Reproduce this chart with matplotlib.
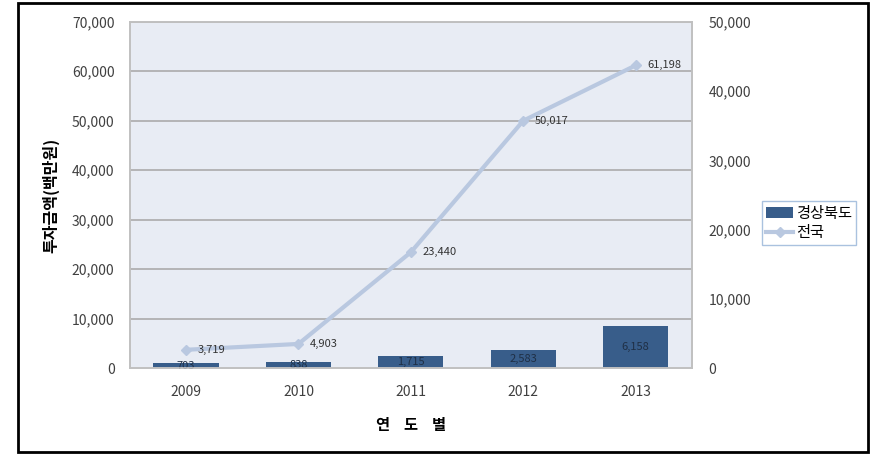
#! /usr/bin/env python3

import numpy as np
import matplotlib
matplotlib.use("Agg")
from matplotlib import pyplot as plt
from matplotlib.patches import Rectangle

plt.rcParams['font.family'] = ['Noto Sans CJK KR', 'DejaVu Sans']

years      = ["2009", "2010", "2011", "2012", "2013"]
gyeongbuk  = [703, 838, 1715, 2583, 6158]        # bars, right axis
national   = [3719, 4903, 23440, 50017, 61198]   # line, left axis

bar_color  = "#385D8A"
line_color = "#B9C8E0"
tick_color = "#404040"

fig = plt.figure(figsize=(8.77, 4.54), dpi=100)
ax = fig.add_axes([0.148, 0.189, 0.641, 0.763])
ax2 = ax.twinx()

x = np.arange(len(years))

# bars on the right axis, drawn behind the line
ax2.bar(x, gyeongbuk, width=0.58, color=bar_color, zorder=2, label="경상북도")
for xi, v in zip(x, gyeongbuk):
    ax2.text(xi, v / 2, f"{v:,}", ha="center", va="center",
             fontsize=8, color="#1F2F45", zorder=3)
ax2.set_ylim(0, 50000)
ax2.set_yticks(np.arange(0, 50001, 10000))
ax2.set_yticklabels([f"{v:,}" for v in range(0, 50001, 10000)])

# line on the left axis; put the left axes on top
ax.set_zorder(ax2.get_zorder() + 1)
ax.patch.set_visible(False)
ax2.patch.set_visible(True)
ax2.patch.set_facecolor("#E8ECF4")

ln, = ax.plot(x, national, color=line_color, lw=3, marker="D", ms=5,
              markerfacecolor=line_color, markeredgecolor=line_color, label="전국")
for xi, v in zip(x, national):
    ax.text(xi + 0.1, v, f"{v:,}", ha="left", va="center",
            fontsize=8, color="#333333")
ax.set_ylim(0, 70000)
ax.set_yticks(np.arange(0, 70001, 10000))
ax.set_yticklabels([f"{v:,}" for v in range(0, 70001, 10000)])
ax.set_xlim(-0.5, 4.5)
ax.set_xticks(x)
ax.set_xticklabels(years)

# gridlines (draw on ax2 so they sit behind bars)
for v in range(10000, 70001, 10000):
    ax2.axhline(v * 50000 / 70000, color="#ABABAB", lw=1.2, zorder=1)

for a in (ax, ax2):
    a.tick_params(length=0, labelsize=10, colors=tick_color)
    for s in a.spines.values():
        s.set_color("#C0C0C0")
        s.set_linewidth(1.2)
ax.tick_params(axis="x", pad=12)
ax.tick_params(axis="y", pad=11)
ax2.tick_params(axis="y", pad=12)

ax.set_ylabel("투자금액(백만원)", fontsize=11.5, fontweight="bold", labelpad=9)
ax.set_xlabel("연    도    별", fontsize=11, fontweight="bold", labelpad=13)

handles = [ax2.containers[0], ln]
leg = fig.legend(handles, ["경상북도", "전국"], loc="upper left",
                 bbox_to_anchor=(0.869, 0.557), fontsize=11,
                 frameon=True, fancybox=False, borderpad=0.25,
                 handlelength=1.8, handletextpad=0.2, labelspacing=0.15,
                 borderaxespad=0)
leg.get_frame().set_edgecolor("#95B3D7")
leg.get_frame().set_linewidth(1.0)

# outer frame around the whole chart
fig.patches.append(Rectangle((0.021, 0.005), 0.969, 0.989, transform=fig.transFigure,
                             fill=False, edgecolor="black", lw=2))

fig.savefig("out.png", dpi=100)
